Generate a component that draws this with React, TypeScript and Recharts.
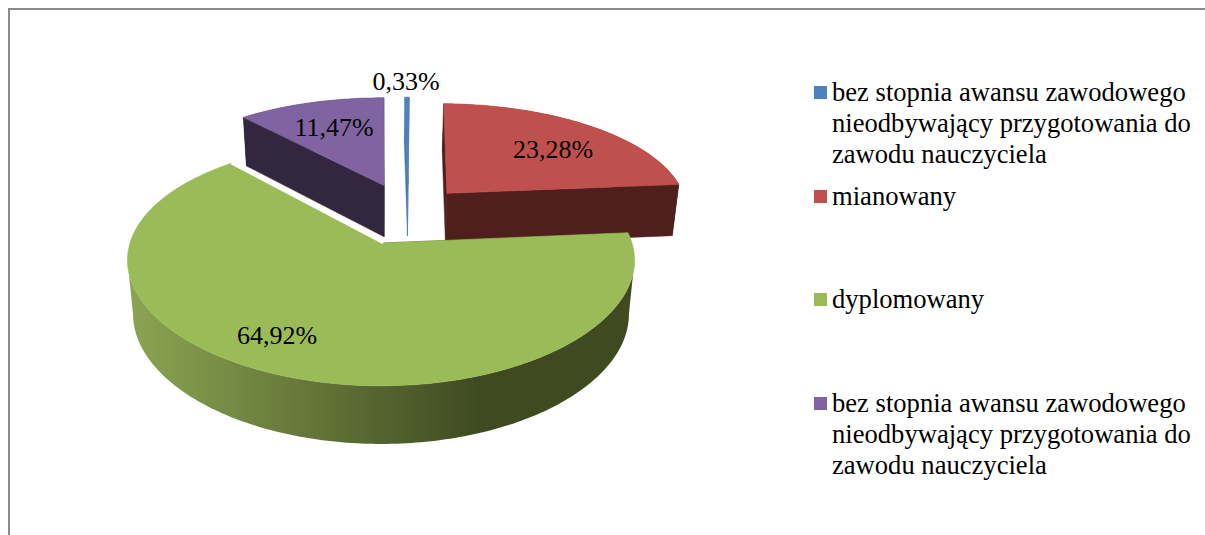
import { PieChart, Pie, Legend } from "recharts";

const categories = [
  "bez stopnia awansu zawodowego nieodbywający przygotowania do zawodu nauczyciela",
  "mianowany",
  "dyplomowany",
  "bez stopnia awansu zawodowego nieodbywający przygotowania do zawodu nauczyciela",
];
const legendLines = [
  ["bez stopnia awansu zawodowego", "nieodbywający przygotowania do", "zawodu nauczyciela"],
  ["mianowany"],
  ["dyplomowany"],
  ["bez stopnia awansu zawodowego", "nieodbywający przygotowania do", "zawodu nauczyciela"],
];
const shares = [0.33, 23.28, 64.92, 11.47];

const topColors = ["#4f81bd", "#c0504d", "#9bbb59", "#8064a2"];
const wallColors = ["#4a7ab4", "#4f1f1e", "url(#greenWall)", "#33273f"];
const labelSpots = [
  [406, 81],
  [553, 149],
  [277, 335],
  [334, 127],
];
// small hand correction of each slice's position on the pie plane
const sliceNudge = [
  [0.01, 0],
  [-0.012, -0.01],
  [0, 0],
  [0.008, 0.01],
];
const GREEN_APEX_SHIFT = 0.008;

// purple goes first so the big green slice is painted last, on top of the others
const drawOrder = [3, 0, 1, 2];
const rows = drawOrder.map((slot) => ({ slot, name: categories[slot], value: shares[slot] }));
const firstAngle = 90 + shares[3] * 3.6;

const FONT = '"Liberation Serif", "Times New Roman", serif';

// fake 3D: flat pie plane seen in perspective, green apex sits at the view origin
const VIEW_X = 381;
const VIEW_Y = 243;
const RADIUS = 251;
const SQUASH = 0.475;
const DEPTH_X = 0.14;
const DEPTH_Y = 0.165;
const EXPLODE = 0.276;
const WALL = 53.5;
const WALL_DEPTH = 0.08;
const WALL_SHRINK = 0.978;
const GREEN_MID = (shares[0] + shares[1] + shares[2] / 2) * 3.6;

const rad = (deg: number) => (deg * Math.PI) / 180;

function project(u: number, v: number) {
  return [
    VIEW_X + (RADIUS * u) / (1 + DEPTH_X * v),
    VIEW_Y - (RADIUS * SQUASH * v) / (1 + DEPTH_Y * v),
  ];
}

function drop(u: number, v: number) {
  const [x, y] = project(u, v);
  return [VIEW_X + (x - VIEW_X) * WALL_SHRINK, y + WALL / (1 + WALL_DEPTH * v)];
}

const toPath = (pts: number[][]) =>
  "M" + pts.map((p) => `${p[0].toFixed(2)},${p[1].toFixed(2)}`).join("L") + "Z";

function Slice3D(props: any) {
  const slot = props.payload?.slot ?? props.slot;
  const a0 = 90 - props.startAngle;
  const a1 = 90 - props.endAngle;
  const mid = (a0 + a1) / 2;
  // plane position of this slice's apex
  const ou = EXPLODE * (Math.sin(rad(mid)) - Math.sin(rad(GREEN_MID))) + sliceNudge[slot][0];
  const ov = EXPLODE * (Math.cos(rad(mid)) - Math.cos(rad(GREEN_MID))) + sliceNudge[slot][1];
  const au = slot === 2 ? ou + GREEN_APEX_SHIFT : ou;

  const arc: number[][] = [];
  const steps = Math.max(2, Math.ceil(a1 - a0));
  for (let i = 0; i <= steps; i++) {
    const a = rad(a0 + ((a1 - a0) * i) / steps);
    arc.push([ou + Math.sin(a), ov + Math.cos(a)]);
  }
  const first = arc[0];
  const last = arc[arc.length - 1];

  const apex = project(au, ov);
  const topArc = arc.map((p) => project(p[0], p[1]));
  const top = [apex, ...topArc];
  const faceA = [apex, project(first[0], first[1]), drop(first[0], first[1]), drop(au, ov)];
  const faceB = [apex, project(last[0], last[1]), drop(last[0], last[1]), drop(au, ov)];

  // the outer wall only runs between the left and right extremes of the arc
  const xs = topArc.map((p) => p[0]);
  const iLeft = xs.indexOf(Math.min(...xs));
  const iRight = xs.indexOf(Math.max(...xs));
  const seen = arc.slice(Math.min(iLeft, iRight), Math.max(iLeft, iRight) + 1);
  const outer = [
    ...seen.map((p) => project(p[0], p[1])),
    ...[...seen].reverse().map((p) => drop(p[0], p[1])),
  ];
  const faceFill = slot === 2 ? "#3f4a21" : wallColors[slot];
  const lastTop = project(last[0], last[1]);

  return (
    <g>
      <path d={toPath(faceA)} fill={faceFill} stroke={faceFill} strokeWidth={0.5} />
      <path d={toPath(faceB)} fill={faceFill} stroke={faceFill} strokeWidth={0.5} />
      <path d={toPath(outer)} fill={wallColors[slot]} />
      <path d={toPath(top)} fill={topColors[slot]} stroke={topColors[slot]} strokeWidth={0.6} />
      {slot === 2 && (
        <line
          x1={apex[0]}
          y1={apex[1]}
          x2={lastTop[0]}
          y2={lastTop[1]}
          stroke="#ffffff"
          strokeWidth={2}
        />
      )}
    </g>
  );
}

function sliceLabel(props: any) {
  const slot = props.payload?.slot ?? props.slot;
  const [x, y] = labelSpots[slot];
  return (
    <text
      x={x}
      y={y}
      textAnchor="middle"
      dominantBaseline="central"
      fontFamily={FONT}
      fontSize={26}
      fill="#000000"
    >
      {shares[slot].toFixed(2).replace(".", ",") + "%"}
    </text>
  );
}

function LegendBox() {
  return (
    <div style={{ fontFamily: FONT, fontSize: 26.6, lineHeight: "31px", color: "#000" }}>
      {legendLines.map((lines, i) => (
        <div key={i} style={{ position: "relative", height: 103.5, paddingLeft: 18 }}>
          <span
            style={{
              position: "absolute",
              left: 0,
              top: 9,
              width: 13,
              height: 13,
              background: topColors[i],
            }}
          />
          {lines.map((line, j) => (
            <div key={j} style={{ whiteSpace: "nowrap" }}>
              {line}
            </div>
          ))}
        </div>
      ))}
    </div>
  );
}

export default function App() {
  return (
    <div style={{ position: "absolute", left: 0, top: 0, width: 1205, height: 535, overflow: "hidden", background: "#fff" }}>
      <div
        style={{
          position: "absolute",
          left: 8,
          top: 8,
          right: 0,
          bottom: 0,
          borderLeft: "2px solid #8c8c8c",
          borderTop: "2px solid #8c8c8c",
        }}
      />
      <PieChart width={1205} height={535} margin={{ top: 0, right: 0, bottom: 0, left: 0 }}>
        <defs>
          <linearGradient id="greenWall" gradientUnits="userSpaceOnUse" x1={128} y1={0} x2={480} y2={0}>
            <stop offset="0%" stopColor="#8ca552" />
            <stop offset="100%" stopColor="#3f4a21" />
          </linearGradient>
        </defs>
        <Pie
          data={rows}
          dataKey="value"
          nameKey="name"
          cx={VIEW_X}
          cy={VIEW_Y}
          outerRadius={RADIUS}
          startAngle={firstAngle}
          endAngle={firstAngle - 360}
          stroke="none"
          shape={Slice3D}
          label={sliceLabel}
          labelLine={false}
          isAnimationActive={false}
        />
        <Legend
          content={LegendBox}
          layout="vertical"
          align="right"
          verticalAlign="top"
          wrapperStyle={{ left: 814, top: 77, width: 391, right: "auto" }}
        />
      </PieChart>
    </div>
  );
}
